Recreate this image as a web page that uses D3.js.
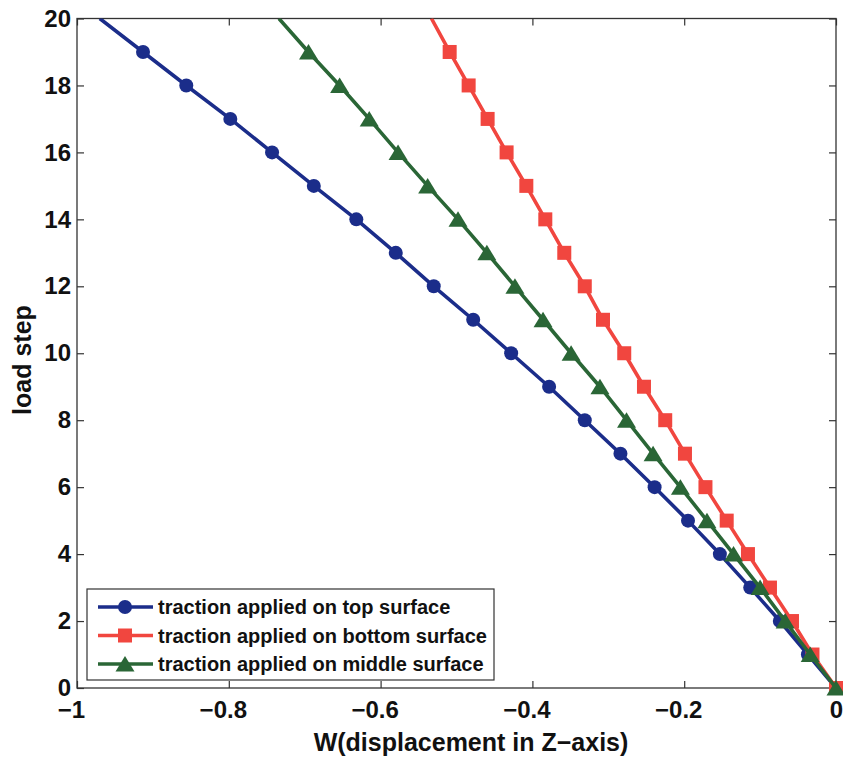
<!DOCTYPE html>
<html>
<head>
<meta charset="utf-8">
<script src="https://cdn.jsdelivr.net/npm/d3@7"></script>
<style>
  body { margin: 0; background: #fff; }
  svg { display: block; }
  text { font-family: "Liberation Sans", Arial, Helvetica, sans-serif; font-weight: bold; fill: #111; }
</style>
</head>
<body>
<div id="chart"></div>
<script>
// load steps 0..20
var steps = d3.range(0, 21);

// W displacement per load step
var topSurface = [0, -0.037, -0.074, -0.113, -0.153, -0.195, -0.239, -0.284, -0.331, -0.378,
  -0.428, -0.478, -0.530, -0.580, -0.632, -0.688, -0.743, -0.798, -0.856, -0.913, -0.970];
var bottomSurface = [0, -0.031, -0.058, -0.087, -0.116, -0.144, -0.172, -0.199, -0.225, -0.253,
  -0.279, -0.307, -0.331, -0.358, -0.383, -0.408, -0.434, -0.459, -0.484, -0.509, -0.533];
var middleSurface = [0, -0.034, -0.067, -0.100, -0.135, -0.170, -0.205, -0.241, -0.276, -0.311,
  -0.349, -0.386, -0.423, -0.460, -0.498, -0.538, -0.577, -0.615, -0.654, -0.695, -0.734];

var seriesNames = ["traction applied on top surface", "traction applied on bottom surface", "traction applied on middle surface"];
var xTicks = [-1, -0.8, -0.6, -0.4, -0.2, 0];
var yTicks = [0, 2, 4, 6, 8, 10, 12, 14, 16, 18, 20];

var width = 843, height = 757;
var margin = { left: 77, right: 7, top: 18.5, bottom: 69 };

var x = d3.scaleLinear().domain([-1, 0]).range([margin.left, width - margin.right]);
var y = d3.scaleLinear().domain([0, 20]).range([height - margin.bottom, margin.top]);

var series = [
  { name: seriesNames[0], values: topSurface, color: "#1b2d8a", marker: "circle" },
  { name: seriesNames[1], values: bottomSurface, color: "#f1463f", marker: "square" },
  { name: seriesNames[2], values: middleSurface, color: "#2a6636", marker: "triangle" }
];

var svg = d3.select("#chart").append("svg")
  .attr("width", width)
  .attr("height", height);

svg.append("defs").append("clipPath").attr("id", "plotclip")
  .append("rect")
  .attr("x", x(-1)).attr("y", y(20))
  .attr("width", x(0) - x(-1)).attr("height", y(0) - y(20));

// axes box with inward ticks on all sides
var tickLen = 7;
var axisColor = "#333";

function styleAxis(g) {
  g.select(".domain").remove();
  g.selectAll(".tick line").attr("stroke", axisColor).attr("stroke-width", 1.2);
}

svg.append("g")
  .attr("transform", "translate(0," + y(0) + ")")
  .call(d3.axisBottom(x).tickValues(xTicks).tickSizeInner(-tickLen).tickPadding(13).tickFormat(d3.format("")))
  .call(styleAxis)
  .selectAll("text")
  .attr("font-size", 24).attr("fill", "#111")
  .attr("dx", function (d) { return d < 0 ? -6 : 0; });

svg.append("g")
  .attr("transform", "translate(0," + y(20) + ")")
  .call(d3.axisTop(x).tickValues(xTicks).tickSizeInner(-tickLen).tickFormat(""))
  .call(styleAxis);

svg.append("g")
  .attr("transform", "translate(" + x(-1) + ",0)")
  .call(d3.axisLeft(y).tickValues(yTicks).tickSizeInner(-tickLen).tickPadding(6).tickFormat(d3.format("d")))
  .call(styleAxis)
  .selectAll("text").attr("font-size", 24).attr("fill", "#111");

svg.append("g")
  .attr("transform", "translate(" + x(0) + ",0)")
  .call(d3.axisRight(y).tickValues(yTicks).tickSizeInner(-tickLen).tickFormat(""))
  .call(styleAxis);

svg.append("rect")
  .attr("x", x(-1)).attr("y", y(20))
  .attr("width", x(0) - x(-1)).attr("height", y(0) - y(20))
  .attr("fill", "none").attr("stroke", axisColor).attr("stroke-width", 1.3);

// axis titles
svg.append("text")
  .attr("x", 471)
  .attr("y", 751)
  .attr("text-anchor", "middle")
  .attr("font-size", 25)
  .text("W(displacement in Z\u2212axis)");

svg.append("text")
  .attr("transform", "translate(31,360) rotate(-90)")
  .attr("text-anchor", "middle")
  .attr("font-size", 25)
  .text("load step");

var line = d3.line()
  .x(function (d) { return x(d.w); })
  .y(function (d) { return y(d.step); });

function drawMarker(sel, type, color) {
  if (type === "circle") {
    sel.append("circle").attr("r", 7).attr("fill", color);
  } else if (type === "square") {
    sel.append("rect").attr("x", -7).attr("y", -7).attr("width", 14).attr("height", 14).attr("fill", color);
  } else {
    sel.append("path").attr("d", "M0,-8 L9.5,7.5 L-9.5,7.5 Z").attr("fill", color);
  }
}

series.forEach(function (s) {
  var pts = steps.map(function (st, i) { return { step: st, w: s.values[i] }; });
  svg.append("path")
    .datum(pts)
    .attr("clip-path", "url(#plotclip)")
    .attr("fill", "none")
    .attr("stroke", s.color)
    .attr("stroke-width", 3.6)
    .attr("stroke-linejoin", "round")
    .attr("d", line);

  svg.append("g").selectAll("g")
    .data(pts.filter(function (d) { return d.step < 20; }))
    .enter().append("g")
    .attr("transform", function (d) { return "translate(" + x(d.w) + "," + y(d.step) + ")"; })
    .each(function () { drawMarker(d3.select(this), s.marker, s.color); });
});

// legend
var legend = svg.append("g").attr("transform", "translate(87,589)");
legend.append("rect")
  .attr("width", 407).attr("height", 91)
  .attr("fill", "#fff").attr("stroke", axisColor).attr("stroke-width", 1.2);

series.forEach(function (s, i) {
  var row = legend.append("g").attr("transform", "translate(0," + (18 + i * 28.5) + ")");
  row.append("line")
    .attr("x1", 11).attr("x2", 66)
    .attr("stroke", s.color).attr("stroke-width", 3.6);
  var m = row.append("g").attr("transform", "translate(38,0)");
  drawMarker(m, s.marker, s.color);
  row.append("text")
    .attr("x", 71).attr("y", 7)
    .attr("font-size", 20)
    .text(s.name);
});
</script>
</body>
</html>
